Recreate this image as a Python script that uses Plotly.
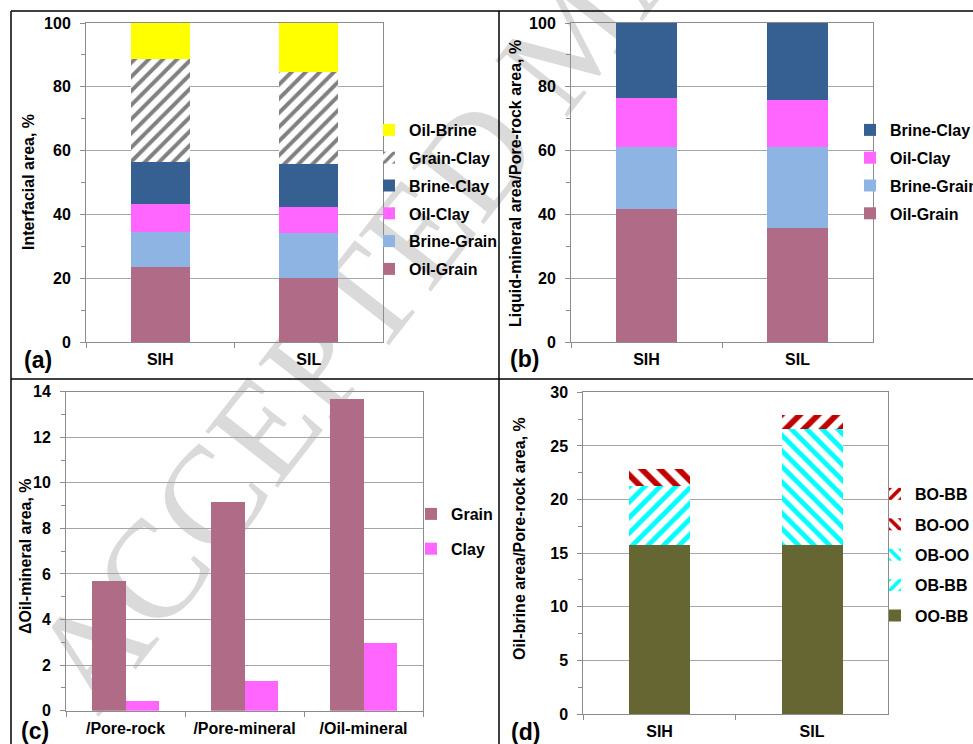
import plotly.graph_objects as go

W, H = 973, 744

# ---------------- data ----------------
samples = ["SIH", "SIL"]

# (a) Interfacial area, %
a_oil_grain = [23.5, 20.2]
a_brine_grain = [11.1, 13.9]
a_oil_clay = [8.7, 8.3]
a_brine_clay = [13.1, 13.5]
a_grain_clay = [32.2, 28.8]
a_oil_brine = [11.4, 15.3]

# (b) Liquid-mineral area / Pore-rock area, %
b_oil_grain = [41.6, 35.8]
b_brine_grain = [19.4, 25.2]
b_oil_clay = [15.5, 14.9]
b_brine_clay = [23.5, 24.1]

# (c) delta Oil-mineral area, %
c_categories = ["/Pore-rock", "/Pore-mineral", "/Oil-mineral"]
c_grain = [5.68, 9.14, 13.66]
c_clay = [0.43, 1.32, 2.96]

# (d) Oil-brine area / Pore-rock area, %
d_oo_bb = [15.76, 15.76]
d_ob_bb = [5.51, 0.0]
d_ob_oo = [0.0, 10.83]
d_bo_oo = [1.56, 0.0]
d_bo_bb = [0.0, 1.30]

# ---------------- styles ----------------
C_OIL_GRAIN = "#B06B86"
C_BRINE_GRAIN = "#8EB4E3"
C_OIL_CLAY = "#FF66FF"
C_BRINE_CLAY = "#366092"
C_GRAIN_CLAY = "#808080"
C_OIL_BRINE = "#FFFF00"
C_OLIVE = "#666633"
C_CYAN = "#00FFFF"
C_RED = "#C00000"

FONT = "Liberation Sans, Arial, sans-serif"
BLACK = "#000000"
GRID = "#A6A6A6"
AXIS = "#8C8C8C"
BAR_W = 0.40


def px_x(x):
    return x / W


def px_y(y):
    return 1 - y / H


fig = go.Figure()
rank = [1000]


def next_rank():
    rank[0] -= 1
    return rank[0]


def solid(name, x, y, color, xa, ya, legend):
    fig.add_trace(go.Bar(
        name=name, x=x, y=y, xaxis=xa, yaxis=ya, legend=legend,
        legendgroup=legend + name, legendrank=next_rank(), width=BAR_W,
        marker=dict(color=color, line=dict(width=0)),
    ))


def hatched(name, x, y, color, shape, size, solidity, xa, ya, legend):
    fig.add_trace(go.Bar(
        name=name, x=x, y=y, xaxis=xa, yaxis=ya, legend=legend,
        legendgroup=legend + name, legendrank=next_rank(), width=BAR_W,
        marker=dict(color=color, line=dict(width=0),
                    pattern=dict(shape=shape, fgcolor=color, bgcolor="white",
                                 size=size, solidity=solidity, fillmode="replace")),
    ))


# (a)
solid("Oil-Grain", samples, a_oil_grain, C_OIL_GRAIN, "x", "y", "legend")
solid("Brine-Grain", samples, a_brine_grain, C_BRINE_GRAIN, "x", "y", "legend")
solid("Oil-Clay", samples, a_oil_clay, C_OIL_CLAY, "x", "y", "legend")
solid("Brine-Clay", samples, a_brine_clay, C_BRINE_CLAY, "x", "y", "legend")
hatched("Grain-Clay", samples, a_grain_clay, C_GRAIN_CLAY, "/", 10, 0.4, "x", "y", "legend")
solid("Oil-Brine", samples, a_oil_brine, C_OIL_BRINE, "x", "y", "legend")

# (b)
solid("Oil-Grain", samples, b_oil_grain, C_OIL_GRAIN, "x2", "y2", "legend2")
solid("Brine-Grain", samples, b_brine_grain, C_BRINE_GRAIN, "x2", "y2", "legend2")
solid("Oil-Clay", samples, b_oil_clay, C_OIL_CLAY, "x2", "y2", "legend2")
solid("Brine-Clay", samples, b_brine_clay, C_BRINE_CLAY, "x2", "y2", "legend2")

# (c) grouped bars (side by side via offset groups)
fig.add_trace(go.Bar(name="Grain", x=c_categories, y=c_grain, xaxis="x3", yaxis="y3",
                     legend="legend3", legendgroup="cGrain", legendrank=1,
                     offsetgroup="grain",
                     marker=dict(color=C_OIL_GRAIN, line=dict(width=0))))
fig.add_trace(go.Bar(name="Clay", x=c_categories, y=c_clay, xaxis="x3", yaxis="y3",
                     legend="legend3", legendgroup="cClay", legendrank=2,
                     offsetgroup="clay",
                     marker=dict(color=C_OIL_CLAY, line=dict(width=0))))

# (d)
solid("OO-BB", samples, d_oo_bb, C_OLIVE, "x4", "y4", "legend4")
hatched("OB-BB", samples, d_ob_bb, C_CYAN, "/", 11, 0.45, "x4", "y4", "legend4")
hatched("OB-OO", samples, d_ob_oo, C_CYAN, "\\", 11, 0.45, "x4", "y4", "legend4")
hatched("BO-OO", samples, d_bo_oo, C_RED, "\\", 13, 0.45, "x4", "y4", "legend4")
hatched("BO-BB", samples, d_bo_bb, C_RED, "/", 13, 0.45, "x4", "y4", "legend4")

tickfont = dict(family=FONT, size=16, color=BLACK, weight="bold")


def xaxis(dom, anchor):
    return dict(domain=[px_x(dom[0]), px_x(dom[1])], anchor=anchor,
                type="category", tickson="boundaries", ticks="outside", ticklen=5,
                tickcolor=AXIS, showline=True, linecolor=AXIS, linewidth=1,
                mirror=True, showgrid=False, tickfont=tickfont,
                ticklabelstandoff=3, fixedrange=True)


def yaxis(dom, anchor, rng, dtick, minor):
    return dict(domain=[px_y(dom[1]), px_y(dom[0])], anchor=anchor, range=rng,
                dtick=dtick, tick0=0, ticks="outside", ticklen=5, tickcolor=AXIS,
                minor=dict(dtick=minor, tick0=0, ticks="outside", ticklen=4,
                           tickcolor=AXIS, showgrid=False),
                showline=True, linecolor=AXIS, linewidth=1, mirror=True,
                showgrid=True, gridcolor=GRID, gridwidth=1, zeroline=False,
                tickfont=tickfont, ticklabelstandoff=6, fixedrange=True)


legend_font = dict(family=FONT, size=16, color=BLACK, weight="bold")


def legend(x, y, gap):
    return dict(x=px_x(x), y=px_y(y), xanchor="left", yanchor="top",
                font=legend_font, traceorder="grouped",
                tracegroupgap=gap, bgcolor="rgba(0,0,0,0)", borderwidth=0)


annotations = []


def label(text, x, y, size=16, angle=0):
    annotations.append(dict(text=text, x=px_x(x), y=px_y(y), xref="paper", yref="paper",
                            showarrow=False, textangle=angle,
                            font=dict(family=FONT, size=size, color=BLACK, weight="bold"),
                            xanchor="center", yanchor="middle"))


label("Interfacial area, %", 28, 182, angle=-90)
label("Liquid-mineral area/Pore-rock area, %", 515, 184, angle=-90)
label("ΔOil-mineral area, %", 25, 556, angle=-90)
label("Oil-brine area/Pore-rock area, %", 519, 539, angle=-90)
label("(a)", 38, 360, size=23)
label("(b)", 524, 359, size=23)
label("(c)", 35, 731, size=23)
label("(d)", 525, 732, size=23)

shapes = []
# panel frame lines
for (x0, y0, x1, y1) in [(11, 11, 973, 11), (11, 11, 11, 744),
                         (499, 11, 499, 744), (11, 379, 973, 379)]:
    shapes.append(dict(type="line", xref="paper", yref="paper",
                       x0=px_x(x0), y0=px_y(y0), x1=px_x(x1), y1=px_y(y1),
                       line=dict(color=BLACK, width=1.5), layer="above"))

# watermark
cx, cy, ux, uy, L = 560, 25, 0.616, -0.788, 500
shapes.append(dict(type="line", xref="paper", yref="paper", layer="below",
                   x0=px_x(cx - ux * L), y0=px_y(cy - uy * L),
                   x1=px_x(cx + ux * L), y1=px_y(cy + uy * L),
                   line=dict(color="rgba(0,0,0,0)", width=0),
                   label=dict(text="ACCEPTED MANUSCRIPT", textposition="middle",
                              yanchor="middle", textangle=-52,
                              font=dict(family="Liberation Serif, Times New Roman, serif",
                                        size=140, color="#DADADA"))))

fig.update_layout(
    width=W, height=H, margin=dict(l=0, r=0, t=0, b=0, autoexpand=False),
    paper_bgcolor="white", plot_bgcolor="white",
    barmode="stack", bargap=0.43, bargroupgap=0,
    showlegend=True,
    xaxis=xaxis((86, 383), "y"),
    yaxis=yaxis((23, 342), "x", [0, 100], 20, 10),
    xaxis2=xaxis((571, 873), "y2"),
    yaxis2=yaxis((23, 342), "x2", [0, 100], 20, 10),
    xaxis3=xaxis((66, 423), "y3"),
    yaxis3=yaxis((391.7, 710.7), "x3", [0, 14], 2, 1),
    xaxis4=xaxis((583.3, 888.3), "y4"),
    yaxis4=yaxis((392.3, 714), "x4", [0, 30], 5, 2.5),
    legend=legend(369, 113, 4),
    legend2=legend(850, 113, 4),
    legend3=legend(411, 497, 11),
    legend4=legend(875, 477, 6.6),
    annotations=annotations,
    shapes=shapes,
)

fig.write_html("out.html", config={"displayModeBar": False},
               post_script="document.body.style.margin='0';")
